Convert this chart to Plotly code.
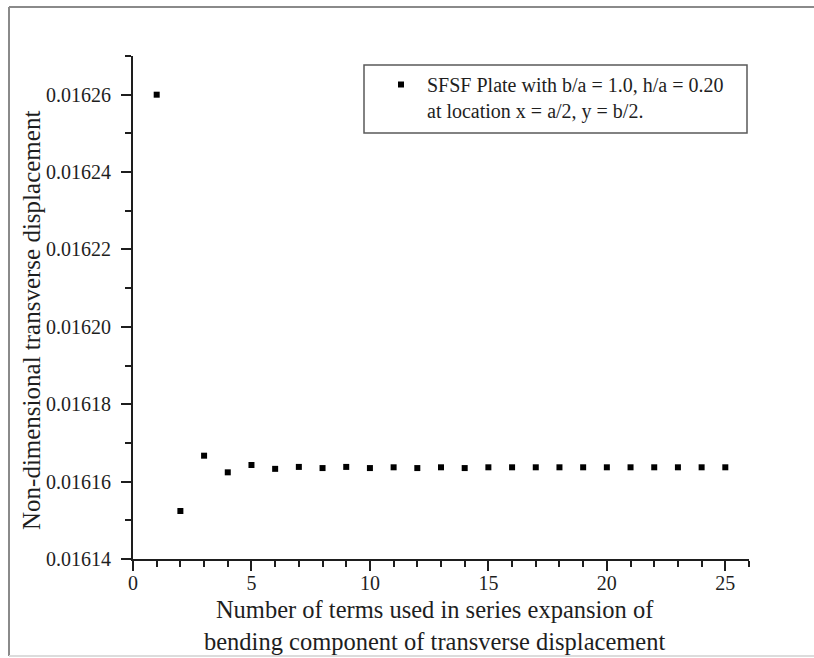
import plotly.graph_objects as go

terms = list(range(1, 26))
displacement = [
    0.016260, 0.0161524, 0.0161667, 0.0161624, 0.0161643,
    0.0161633, 0.0161638, 0.0161635, 0.0161638, 0.0161635,
    0.0161637, 0.0161635, 0.0161637, 0.0161635, 0.0161637,
    0.0161637, 0.0161637, 0.0161637, 0.0161637, 0.0161637,
    0.0161637, 0.0161637, 0.0161637, 0.0161637, 0.0161637,
]
series_name = "SFSF Plate with b/a = 1.0, h/a = 0.20<br>at location x = a/2, y = b/2."
x_title = "Number of terms used in series expansion of<br>bending component of transverse displacement"
y_title = "Non-dimensional transverse displacement"

FONT = "Liberation Serif, Times New Roman, serif"
INK = "#1e1e1e"

W, H = 814, 658
L, T = 133, 56
pw, ph = 616, 503
R, B = W - L - pw, H - T - ph


def px(x):
    """page x pixel -> paper x"""
    return (x - L) / pw


def py(y):
    """page y pixel -> paper y"""
    return (H - B - y) / ph


fig = go.Figure()
fig.add_trace(go.Scatter(
    x=terms, y=displacement, mode="markers", name=series_name,
    marker=dict(symbol="square", size=6, color="black", line=dict(width=0)),
    showlegend=True,
))

axis_common = dict(
    showline=True, linewidth=2, linecolor=INK, ticks="outside",
    tickcolor=INK, tickwidth=2, showgrid=False, zeroline=False,
    tickfont=dict(family=FONT, size=20, color=INK),
    mirror=False, ticklen=10,
)

fig.update_xaxes(
    range=[0, 26], dtick=5, tick0=0, ticklabelstandoff=-5,
    minor=dict(dtick=1, tick0=0, ticks="outside", ticklen=6, tickcolor=INK, tickwidth=2),
    **axis_common,
)
fig.update_yaxes(
    range=[0.01614, 0.01627], dtick=0.00002, tick0=0.01614,
    tickformat=".5f", ticklabelstandoff=6,
    minor=dict(dtick=0.00001, tick0=0.01614, ticks="outside", ticklen=6, tickcolor=INK, tickwidth=2),
    **axis_common,
)

shapes = [
    # outer frame (left, top, bottom edges of the original figure)
    dict(type="line", xref="paper", yref="paper", x0=px(9), x1=px(9), y0=py(7), y1=py(656),
         line=dict(color="#8a8a8a", width=2)),
    dict(type="line", xref="paper", yref="paper", x0=px(9), x1=px(814), y0=py(7), y1=py(7),
         line=dict(color="#8a8a8a", width=2)),
    dict(type="line", xref="paper", yref="paper", x0=px(9), x1=px(814), y0=py(656), y1=py(656),
         line=dict(color="#dcdcdc", width=2)),
    # legend box
    dict(type="rect", xref="paper", yref="paper", x0=px(364), x1=px(747), y0=py(65), y1=py(133),
         line=dict(color="#5a5a5a", width=1.5), fillcolor="rgba(0,0,0,0)"),
]

annotations = [
    dict(text=y_title, xref="paper", yref="paper", x=px(31), y=py(321),
         textangle=-90, showarrow=False, xanchor="center", yanchor="middle",
         font=dict(family=FONT, size=25, color=INK)),
    dict(text=x_title, xref="paper", yref="paper", x=px(434), y=py(625),
         showarrow=False, xanchor="center", yanchor="middle",
         font=dict(family=FONT, size=24.5, color=INK)),
]

fig.update_layout(
    width=W, height=H,
    margin=dict(l=L, r=R, t=T, b=B, pad=0),
    paper_bgcolor="white", plot_bgcolor="white",
    font=dict(family=FONT, color=INK),
    shapes=shapes,
    annotations=annotations,
    legend=dict(
        x=px(375), y=py(65), xanchor="left", yanchor="top",
        borderwidth=0, bgcolor="rgba(0,0,0,0)",
        font=dict(family=FONT, size=20, color=INK),
        valign="top", itemwidth=42, tracegroupgap=0,
    ),
    showlegend=True,
)

# the default page has an 8px body margin; place the figure at the window's top-left
fig.write_html(
    "out.html",
    config={"displayModeBar": False},
    post_script=(
        "document.body.style.margin='0';"
        "document.body.style.overflow='hidden';"
        "document.documentElement.style.overflow='hidden';"
    ),
)
